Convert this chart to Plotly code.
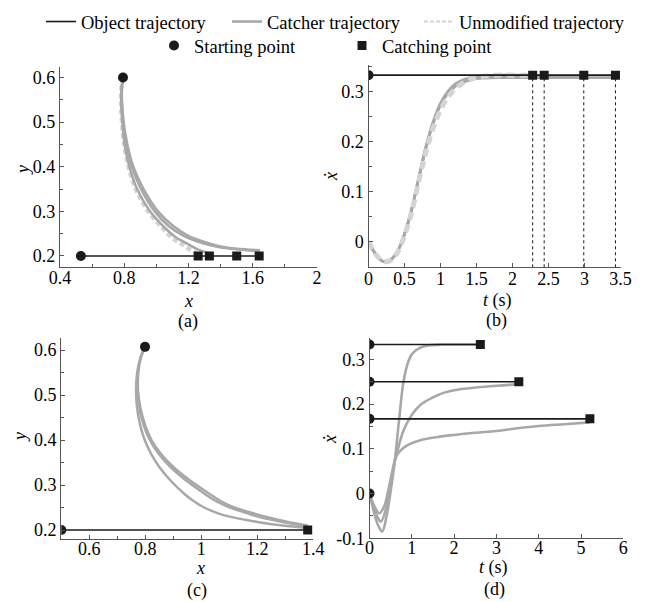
import plotly.graph_objects as go

W, H = 652, 602
OFF = 8  # page body margin offset of the rendered figure
FONT = "Liberation Serif, Times New Roman, Times, DejaVu Serif, serif"
BLACK = "#1a1a1a"
GRAY = "#a8a8a8"
LIGHT = "#d4d4d4"
AXC = "#555555"

# ---------------- Panel (a): y vs x ----------------
a_obj_x = [0.53, 1.64]
a_obj_y = [0.2, 0.2]
a_start_x = [0.792, 0.53]
a_start_y = [0.6, 0.2]
a_catch_x = [1.26, 1.33, 1.50, 1.64]
a_catch_y = [0.2, 0.2, 0.2, 0.2]
a_unmod_x = [0.792, 0.781, 0.780, 0.786, 0.800, 0.827, 0.872, 0.950, 1.030, 1.100, 1.150, 1.210, 1.260]
a_unmod_y = [0.600, 0.570, 0.550, 0.500, 0.450, 0.400, 0.350, 0.300, 0.266, 0.240, 0.229, 0.214, 0.204]
a_c1_x = [0.792, 0.782, 0.781, 0.788, 0.803, 0.832, 0.880, 0.960, 1.045, 1.120, 1.180, 1.250, 1.330]
a_c1_y = [0.600, 0.570, 0.550, 0.500, 0.450, 0.400, 0.350, 0.300, 0.266, 0.242, 0.230, 0.216, 0.206]
a_c2_x = [0.792, 0.783, 0.783, 0.793, 0.813, 0.848, 0.905, 0.990, 1.080, 1.170, 1.260, 1.380, 1.500, 1.640]
a_c2_y = [0.600, 0.570, 0.550, 0.500, 0.450, 0.400, 0.350, 0.300, 0.266, 0.245, 0.232, 0.221, 0.215, 0.211]
a_c3_x = [0.792, 0.784, 0.785, 0.796, 0.819, 0.856, 0.920, 1.010, 1.109, 1.200, 1.294, 1.390, 1.500, 1.645]
a_c3_y = [0.600, 0.570, 0.550, 0.500, 0.450, 0.400, 0.350, 0.300, 0.266, 0.245, 0.232, 0.222, 0.216, 0.213]

# ---------------- Panel (b): x-dot vs t ----------------
b_obj_t = [0, 3.43]
b_obj_v = [0.333, 0.333]
b_start_t = [0]
b_start_v = [0.333]
b_catch_t = [2.28, 2.44, 2.99, 3.43]
b_catch_v = [0.333, 0.333, 0.333, 0.333]
b_drop_bottom = -0.0512
b_t = [0, 0.1, 0.2, 0.3, 0.4, 0.5, 0.6, 0.7, 0.8, 0.9, 1.0, 1.1, 1.2, 1.3, 1.4, 1.5, 1.6, 1.8, 2.0, 2.28]
b_unmod_v = [0, -0.025, -0.039, -0.038, -0.022, 0.012, 0.060, 0.122, 0.180, 0.228, 0.263, 0.288, 0.305, 0.316, 0.324, 0.329, 0.331, 0.333, 0.333, 0.333]
b_t_long = [0, 0.1, 0.2, 0.3, 0.4, 0.5, 0.6, 0.7, 0.8, 0.9, 1.0, 1.1, 1.2, 1.3, 1.4, 1.5, 1.6, 1.8, 2.0, 2.28, 2.44, 2.7, 2.99, 3.2, 3.43]
b_c1_v = [0, -0.025, -0.039, -0.037, -0.020, 0.015, 0.066, 0.130, 0.192, 0.241, 0.277, 0.300, 0.315, 0.323, 0.328, 0.331, 0.332, 0.333, 0.333, 0.333]
b_c2_v = [0, -0.025, -0.039, -0.037, -0.020, 0.015, 0.065, 0.129, 0.190, 0.239, 0.275, 0.298, 0.313, 0.321, 0.326, 0.329, 0.330, 0.331, 0.331, 0.331, 0.331]
b_c3_v = [0, -0.025, -0.039, -0.037, -0.020, 0.015, 0.064, 0.128, 0.189, 0.238, 0.274, 0.297, 0.311, 0.319, 0.324, 0.327, 0.328, 0.329, 0.329, 0.329, 0.329, 0.329, 0.329]
b_c4_v = [0, -0.025, -0.039, -0.037, -0.020, 0.015, 0.064, 0.127, 0.188, 0.237, 0.273, 0.296, 0.310, 0.318, 0.323, 0.326, 0.327, 0.328, 0.328, 0.328, 0.328, 0.328, 0.328, 0.328, 0.328]

# ---------------- Panel (c): y vs x ----------------
c_obj_x = [0.5, 1.38]
c_obj_y = [0.2, 0.2]
c_start_x = [0.799, 0.5]
c_start_y = [0.607, 0.2]
c_catch_x = [1.38]
c_catch_y = [0.2]
c_c1_x = [0.799, 0.781, 0.771, 0.767, 0.771, 0.783, 0.798, 0.820, 0.850, 0.890, 0.940, 0.971, 1.010, 1.060, 1.114, 1.200, 1.290, 1.380]
c_c1_y = [0.607, 0.580, 0.550, 0.510, 0.470, 0.430, 0.400, 0.370, 0.340, 0.310, 0.280, 0.265, 0.250, 0.237, 0.228, 0.218, 0.210, 0.205]
c_c2_x = [0.799, 0.783, 0.775, 0.774, 0.783, 0.801, 0.822, 0.855, 0.900, 0.960, 1.030, 1.067, 1.115, 1.170, 1.233, 1.310, 1.380]
c_c2_y = [0.607, 0.580, 0.550, 0.510, 0.470, 0.430, 0.400, 0.370, 0.340, 0.310, 0.280, 0.265, 0.251, 0.240, 0.229, 0.218, 0.210]
c_c3_x = [0.799, 0.782, 0.774, 0.772, 0.779, 0.796, 0.816, 0.847, 0.890, 0.946, 1.013, 1.050, 1.098, 1.150, 1.212, 1.296, 1.380]
c_c3_y = [0.607, 0.580, 0.550, 0.510, 0.470, 0.430, 0.400, 0.370, 0.340, 0.310, 0.280, 0.265, 0.251, 0.240, 0.228, 0.217, 0.208]

# ---------------- Panel (d): x-dot vs t ----------------
d_obj_v = [0.333, 0.25, 0.167]
d_obj_end = [2.62, 3.53, 5.21]
d_start_t = [0, 0, 0, 0]
d_start_v = [0.333, 0.25, 0.167, 0.0]
d_c1_t = [0, 0.1, 0.2, 0.3, 0.4, 0.5, 0.6, 0.7, 0.8, 0.9, 1.0, 1.2, 1.4, 1.7, 2.0, 2.3, 2.62]
d_c1_v = [0, -0.040, -0.070, -0.085, -0.052, 0.005, 0.075, 0.165, 0.248, 0.290, 0.311, 0.326, 0.331, 0.333, 0.333, 0.333, 0.333]
d_c2_t = [0, 0.1, 0.2, 0.27, 0.4, 0.5, 0.6, 0.7, 0.8, 0.94, 1.1, 1.23, 1.5, 1.75, 2.0, 2.5, 3.0, 3.53]
d_c2_v = [0, -0.030, -0.055, -0.063, -0.030, 0.025, 0.072, 0.110, 0.140, 0.167, 0.188, 0.200, 0.215, 0.225, 0.231, 0.237, 0.241, 0.244]
d_c3_t = [0, 0.1, 0.23, 0.35, 0.45, 0.55, 0.64, 0.8, 0.96, 1.2, 1.59, 2.0, 2.5, 3.0, 3.5, 4.0, 4.6, 5.21]
d_c3_v = [0, -0.025, -0.044, -0.028, 0.010, 0.055, 0.085, 0.102, 0.111, 0.119, 0.126, 0.131, 0.136, 0.140, 0.146, 0.151, 0.155, 0.159]

# legend labels
legend_names = ["Object trajectory", "Catcher trajectory", "Unmodified trajectory",
                "Starting point", "Catching point"]

fig = go.Figure()


def line(x, y, ax, color, width, dash="solid", shape="spline"):
    fig.add_trace(go.Scatter(x=x, y=y, xaxis=ax[0], yaxis=ax[1], mode="lines",
                             line=dict(color=color, width=width, dash=dash, shape=shape),
                             showlegend=False, hoverinfo="skip"))


def marks(x, y, ax, symbol, size):
    fig.add_trace(go.Scatter(x=x, y=y, xaxis=ax[0], yaxis=ax[1], mode="markers",
                             marker=dict(symbol=symbol, size=size, color=BLACK),
                             showlegend=False, hoverinfo="skip"))


A, B, C, D = ("x", "y"), ("x2", "y2"), ("x3", "y3"), ("x4", "y4")

# (a)
line(a_unmod_x, a_unmod_y, A, LIGHT, 4.5, dash="5px,3px")
for cx, cy in [(a_c1_x, a_c1_y), (a_c2_x, a_c2_y), (a_c3_x, a_c3_y)]:
    line(cx, cy, A, GRAY, 2.6)
line(a_obj_x, a_obj_y, A, BLACK, 1.6, shape="linear")
marks(a_start_x, a_start_y, A, "circle", 10)
marks(a_catch_x, a_catch_y, A, "square", 9)

# (b)
line(b_t[:len(b_c1_v)], b_c1_v, B, GRAY, 2.6)
line(b_t_long[:len(b_c2_v)], b_c2_v, B, GRAY, 2.6)
line(b_t_long[:len(b_c3_v)], b_c3_v, B, GRAY, 2.6)
line(b_t_long[:len(b_c4_v)], b_c4_v, B, GRAY, 2.6)
line(b_t, b_unmod_v, B, LIGHT, 5, dash="8px,5px")
line(b_obj_t, b_obj_v, B, BLACK, 1.6, shape="linear")
for tc, vc in zip(b_catch_t, b_catch_v):
    line([tc, tc], [b_drop_bottom, vc], B, BLACK, 1, dash="dot", shape="linear")
marks(b_start_t, b_start_v, B, "circle", 10)
marks(b_catch_t, b_catch_v, B, "square", 9)

# (c)
for cx, cy in [(c_c1_x, c_c1_y), (c_c2_x, c_c2_y), (c_c3_x, c_c3_y)]:
    line(cx, cy, C, GRAY, 2.5)
line(c_obj_x, c_obj_y, C, BLACK, 1.6, shape="linear")
marks(c_start_x, c_start_y, C, "circle", 10)
marks(c_catch_x, c_catch_y, C, "square", 9)

# (d)
for ct, cv in [(d_c1_t, d_c1_v), (d_c2_t, d_c2_v), (d_c3_t, d_c3_v)]:
    line(ct, cv, D, GRAY, 2.6)
for v, te in zip(d_obj_v, d_obj_end):
    line([0, te], [v, v], D, BLACK, 1.6, shape="linear")
marks(d_start_t, d_start_v, D, "circle", 10)
marks(d_obj_end, d_obj_v, D, "square", 9)

# legend entries (each in its own legend so they can be placed like the original)
legend_font = dict(family=FONT, size=18.5, color="black")
fig.add_trace(go.Scatter(x=[None], y=[None], mode="lines", name=legend_names[0],
                         line=dict(color=BLACK, width=1.6), legend="legend"))
fig.add_trace(go.Scatter(x=[None], y=[None], mode="lines", name=legend_names[1],
                         line=dict(color=GRAY, width=2.6), legend="legend2"))
fig.add_trace(go.Scatter(x=[None], y=[None], mode="lines", name=legend_names[2],
                         line=dict(color=LIGHT, width=2, dash="4px,2px"), legend="legend3"))
fig.add_trace(go.Scatter(x=[None], y=[None], mode="markers", name=legend_names[3],
                         marker=dict(symbol="circle", size=10, color=BLACK), legend="legend4"))
fig.add_trace(go.Scatter(x=[None], y=[None], mode="markers", name=legend_names[4],
                         marker=dict(symbol="square", size=9, color=BLACK), legend="legend5"))


def px_x(p):
    return (p - OFF) / W


def px_y(p):
    return 1 - (p - OFF) / H


def axis(domain_px, rng, tickvals, ticktext, minor_dtick, vertical=False, standoff=-5):
    if vertical:
        dom = [px_y(domain_px[1]), px_y(domain_px[0])]
    else:
        dom = [px_x(domain_px[0]), px_x(domain_px[1])]
    d = dict(domain=dom, range=rng, autorange=False, automargin=False,
             showline=True, linecolor=AXC, linewidth=1.3,
             ticks="inside", ticklen=4, tickcolor=AXC, tickwidth=1,
             tickvals=tickvals, ticktext=ticktext, showgrid=False, zeroline=False,
             tickfont=dict(family=FONT, size=18, color="black"), fixedrange=True)
    if not vertical:
        d["ticklabelstandoff"] = standoff
    if minor_dtick:
        d["minor"] = dict(ticks="inside", ticklen=3, tickcolor=AXC, dtick=minor_dtick,
                          showgrid=False, tick0=0)
    return d


def leg(xp, yp):
    return dict(orientation="h", x=px_x(xp), y=px_y(yp), xanchor="left", yanchor="middle",
                font=legend_font, bgcolor="rgba(0,0,0,0)")


fig.update_layout(
    width=W, height=H, margin=dict(l=0, r=0, t=0, b=0, pad=0, autoexpand=False),
    paper_bgcolor="white", plot_bgcolor="white",
    font=dict(family=FONT, size=18, color="black"),
    xaxis=dict(axis((60, 317), [0.4, 2.0], [0.4, 0.8, 1.2, 1.6, 2.0], ["0.4", "0.8", "1.2", "1.6", "2"], 0.2), anchor="y"),
    yaxis=dict(axis((67, 266.7), [0.176, 0.6235], [0.2, 0.3, 0.4, 0.5, 0.6], ["0.2", "0.3", "0.4", "0.5", "0.6"], 0.05, True), anchor="x"),
    xaxis2=dict(axis((368.5, 620.5), [0, 3.5], [0, 0.5, 1, 1.5, 2, 2.5, 3, 3.5], ["0", "0.5", "1", "1.5", "2", "2.5", "3", "3.5"], None), anchor="y2"),
    yaxis2=dict(axis((65, 267.3), [-0.0512, 0.3533], [0, 0.1, 0.2, 0.3], ["0", "0.1", "0.2", "0.3"], 0.05, True), anchor="x2"),
    xaxis3=dict(axis((61.3, 313.3), [0.5, 1.4], [0.6, 0.8, 1.0, 1.2, 1.4], ["0.6", "0.8", "1", "1.2", "1.4"], 0.1, standoff=-7), anchor="y3"),
    yaxis3=dict(axis((338.3, 539), [0.18, 0.626], [0.2, 0.3, 0.4, 0.5, 0.6], ["0.2", "0.3", "0.4", "0.5", "0.6"], 0.05, True), anchor="x3"),
    xaxis4=dict(axis((369.5, 623.3), [0, 6], [0, 1, 2, 3, 4, 5, 6], ["0", "1", "2", "3", "4", "5", "6"], None, standoff=-7), anchor="y4"),
    yaxis4=dict(axis((338.3, 538.3), [-0.1, 0.347], [-0.1, 0, 0.1, 0.2, 0.3], ["-0.1", "0", "0.1", "0.2", "0.3"], 0.05, True), anchor="x4"),
    legend=leg(41, 22),
    legend2=leg(227, 22),
    legend3=leg(419, 22),
    legend4=leg(154, 46),
    legend5=leg(342, 46),
)

ann = [
    ("<i>x</i>", 188, 301, 0), ("(a)", 188, 321, 0),
    ("<i>t</i> (s)", 497, 300, 0), ("(b)", 496, 320, 0),
    ("<i>x</i>", 200, 568, 0), ("(c)", 197, 590, 0),
    ("<i>t</i> (s)", 493, 567, 0), ("(d)", 494, 589, 0),
    ("<i>y</i>", 23, 170, -90), ("<i>ẋ</i>", 331, 177, -90),
    ("<i>y</i>", 20, 437, -90), ("<i>ẋ</i>", 330, 440, -90),
]
for text, x, y, ang in ann:
    fig.add_annotation(text=text, x=px_x(x), y=px_y(y), xref="paper", yref="paper",
                       xanchor="center", yanchor="middle", showarrow=False, textangle=ang,
                       font=dict(family=FONT, size=18, color="black"))

fig.write_html("out.html")
